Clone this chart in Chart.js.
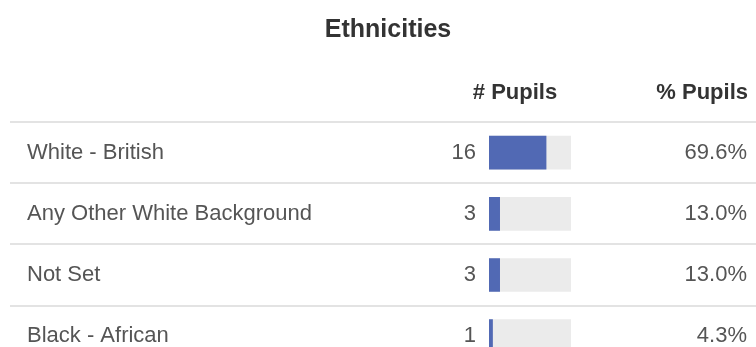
<!DOCTYPE html>
<html>
<head>
<meta charset="utf-8">
<script src="https://cdn.jsdelivr.net/npm/chart.js@4/dist/chart.umd.min.js"></script>
<style>
  html, body { margin: 0; padding: 0; background: #fff; overflow: hidden; }
</style>
</head>
<body>
<canvas id="myChart" width="756" height="380"></canvas>
<script>
const ethnicities = ["White - British", "Any Other White Background", "Not Set", "Black - African"];
const pupilCounts = [16, 3, 3, 1];
const pupilPct = [69.6, 13.0, 13.0, 4.3];
const trackMax = 100;

const FONT = "'Liberation Sans', Arial, Helvetica, sans-serif";

// separators, column headers and the number columns
const tablePlugin = {
    id: 'tableBits',
    beforeDatasetsDraw(chart) {
        const ctx = chart.ctx;
        const y = chart.scales.y;
        const step = y.getPixelForValue(1) - y.getPixelForValue(0);
        ctx.save();
        ctx.strokeStyle = '#e3e3e3';
        ctx.lineWidth = 2;
        for (let i = 0; i < ethnicities.length; i++) {
            const ly = Math.round(y.getPixelForValue(i) - step / 2);
            ctx.beginPath();
            ctx.moveTo(10, ly);
            ctx.lineTo(756, ly);
            ctx.stroke();
        }
        ctx.restore();
    },
    afterDatasetsDraw(chart) {
        const ctx = chart.ctx;
        const area = chart.chartArea;
        const y = chart.scales.y;
        ctx.save();
        ctx.textBaseline = 'middle';
        ctx.fillStyle = '#333';
        ctx.font = 'bold 22px ' + FONT;
        ctx.textAlign = 'center';
        ctx.fillText('# Pupils', 515, 93);
        ctx.textAlign = 'right';
        ctx.fillText('% Pupils', 748, 93);

        ctx.font = '22px ' + FONT;
        ctx.fillStyle = '#555';
        pupilCounts.forEach((c, i) => {
            const py = y.getPixelForValue(i);
            ctx.textAlign = 'right';
            ctx.fillText(String(c), area.left - 13, py);
            ctx.fillText(pupilPct[i].toFixed(1) + '%', 747, py);
        });
        ctx.restore();
    }
};

// empty axes used only as spacers left and right of the bars
function spacer(position, width) {
    return {
        type: 'category',
        position: position,
        weight: 1,
        grid: { display: false },
        border: { display: false },
        ticks: { display: false },
        afterFit(scale) { scale.width = width; }
    };
}

const ctx = document.getElementById('myChart').getContext('2d');
const myChart = new Chart(ctx, {
    type: 'bar',
    data: {
        labels: ethnicities,
        datasets: [
            {
                label: '% Pupils',
                data: pupilPct,
                xAxisID: 'x',
                yAxisID: 'y',
                backgroundColor: '#5169b4',
                grouped: false,
                barThickness: 33
            },
            {
                label: 'track',
                data: ethnicities.map(() => trackMax),
                xAxisID: 'x',
                yAxisID: 'y',
                backgroundColor: '#ebebeb',
                grouped: false,
                barThickness: 33
            }
        ]
    },
    options: {
        indexAxis: 'y',
        responsive: false,
        animation: false,
        layout: { padding: { left: 20, right: 0, top: 0, bottom: 0 } },
        plugins: {
            legend: { display: false },
            tooltip: { enabled: false },
            title: {
                display: true,
                text: 'Ethnicities',
                color: '#333',
                font: { family: FONT, size: 25, weight: 'bold' },
                padding: { top: 15, bottom: 77 }
            }
        },
        scales: {
            y: {
                weight: 0,
                grid: { display: false },
                border: { display: false },
                ticks: {
                    crossAlign: 'far',
                    padding: 0,
                    color: '#555',
                    font: { family: FONT, size: 22 }
                },
                afterFit(scale) { scale.width = 462; }
            },
            x: { display: false, min: 0, max: trackMax },
            padL: spacer('left', 7),
            padR: spacer('right', 185)
        }
    },
    plugins: [tablePlugin]
});
</script>
</body>
</html>
